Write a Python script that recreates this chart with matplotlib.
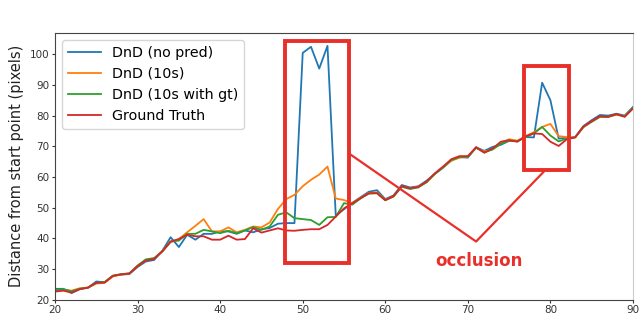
"""
Distance from start point: DnD variants vs ground truth, with occlusion marks
"""

import matplotlib
matplotlib.use('Agg')
import matplotlib.pyplot as plt
from matplotlib.patches import Rectangle

frames = list(range(20, 91))

no_pred = [23.6, 23.6, 22.2, 23.5, 24.0, 26.0, 25.7, 27.8, 28.2, 28.4,
           30.7, 32.5, 33.0, 36.0, 40.4, 37.2, 41.2, 39.6, 41.5, 41.5,
           42.3, 42.3, 41.5, 42.6, 42.0, 43.0, 43.4, 44.8, 45.0, 45.0,
           100.4, 102.4, 95.3, 102.7, 47.5, 49.5, 51.6, 53.4, 55.2, 55.7,
           52.8, 54.0, 57.4, 56.6, 57.0, 58.8, 61.0, 63.0, 65.5, 66.5,
           66.3, 69.7, 68.5, 69.8, 70.5, 71.8, 71.8, 73.0, 72.9, 90.7,
           85.0, 72.5, 72.8, 73.0, 76.6, 78.5, 80.2, 80.0, 80.6, 80.0,
           82.8]

pred_10s = [23.0, 23.3, 23.0, 23.8, 24.0, 25.3, 25.6, 27.6, 28.3, 28.6,
            31.0, 32.9, 33.5, 35.8, 38.8, 39.8, 42.0, 44.1, 46.3, 42.3,
            42.3, 43.6, 42.0, 42.8, 43.9, 43.6, 45.2, 49.6, 52.8, 54.2,
            57.0, 59.1, 60.8, 63.4, 53.0, 52.5, 51.5, 53.2, 54.8, 55.0,
            52.6, 53.6, 57.0, 56.3, 56.9, 58.3, 61.0, 63.2, 65.3, 66.3,
            66.6, 69.5, 68.3, 69.0, 71.0, 72.3, 71.8, 73.3, 74.6, 76.3,
            77.3, 73.3, 73.0, 72.9, 76.2, 78.0, 79.6, 79.6, 80.3, 79.8,
            82.3]

pred_10s_gt = [23.2, 23.5, 22.8, 23.6, 24.0, 25.5, 25.8, 27.9, 28.4, 28.6,
               31.2, 33.2, 33.6, 35.8, 39.0, 39.3, 41.5, 41.5, 42.8, 42.3,
               41.7, 42.5, 41.7, 42.6, 43.7, 42.8, 43.9, 47.7, 48.5, 46.6,
               46.3, 46.0, 44.4, 46.9, 47.0, 51.5, 51.0, 53.0, 54.6, 54.8,
               52.4, 53.7, 56.8, 56.1, 56.6, 58.3, 61.0, 63.2, 65.5, 66.5,
               66.6, 69.5, 68.0, 69.0, 70.8, 71.8, 71.6, 73.0, 74.2, 76.3,
               73.5, 71.6, 72.5, 72.9, 76.3, 78.0, 79.6, 79.6, 80.4, 79.7,
               82.5]

ground_truth = [22.7, 23.0, 22.4, 23.5, 24.0, 25.6, 25.6, 27.8, 28.3, 28.6,
                31.0, 32.8, 33.3, 35.8, 39.0, 39.8, 41.2, 40.7, 40.7, 39.6,
                39.6, 40.9, 39.6, 39.8, 43.3, 41.9, 42.6, 43.3, 42.6, 42.5,
                42.8, 43.0, 43.0, 44.4, 47.1, 49.8, 51.4, 53.1, 54.7, 54.7,
                52.5, 53.8, 57.1, 56.3, 56.8, 58.5, 61.2, 63.4, 65.8, 66.8,
                66.8, 69.7, 67.9, 69.3, 71.5, 72.0, 71.5, 73.3, 74.2, 74.0,
                71.5, 70.1, 72.3, 72.9, 76.4, 78.2, 79.8, 79.6, 80.5, 79.6,
                82.3]

# occlusion boxes: (x0, x1, y0, y1) in data units
boxes = [(47.9, 55.6, 32.1, 104.3), (76.8, 82.2, 62.3, 96.1)]
pointer_x = [55.85, 71.0, 79.4]
pointer_y = [67.2, 39.0, 62.3]

MARK = '#e8302a'

fig = plt.figure(figsize=(6.4, 3.17), dpi=100)
ax = fig.add_axes([0.086, 0.054, 0.903, 0.843])

ax.plot(frames, no_pred, color='#1f77b4', lw=1.3, label='DnD (no pred)')
ax.plot(frames, pred_10s, color='#ff7f0e', lw=1.3, label='DnD (10s)')
ax.plot(frames, pred_10s_gt, color='#2ca02c', lw=1.3, label='DnD (10s with gt)')
ax.plot(frames, ground_truth, color='#d62728', lw=1.3, label='Ground Truth')

for x0, x1, y0, y1 in boxes:
    ax.add_patch(Rectangle((x0, y0), x1 - x0, y1 - y0, fill=False,
                           edgecolor=MARK, lw=2.8, zorder=5))
ax.plot(pointer_x, pointer_y, color=MARK, lw=1.6, zorder=5)
ax.text(71.3, 32.5, 'occlusion', color=MARK, fontsize=12, fontweight='bold',
        ha='center', va='center')

ax.set_xlim(20, 90)
ax.set_ylim(20, 107)
ax.set_xticks(range(20, 91, 10))
ax.set_yticks(range(20, 101, 10))
ax.tick_params(labelsize=7.5, colors='#333333', length=2.5, pad=1.5)
ax.set_ylabel('Distance from start point (pixels)', fontsize=10.5,
              color='#222222', labelpad=4)

for side in ('top', 'left', 'bottom'):
    ax.spines[side].set_color('#444444')
ax.spines['right'].set_color('#cccccc')

ax.legend(loc='upper left', fontsize=10.3, handlelength=2.3,
          borderaxespad=0.5, labelspacing=0.5)

plt.savefig('out.png', dpi=100)
plt.close(fig)
